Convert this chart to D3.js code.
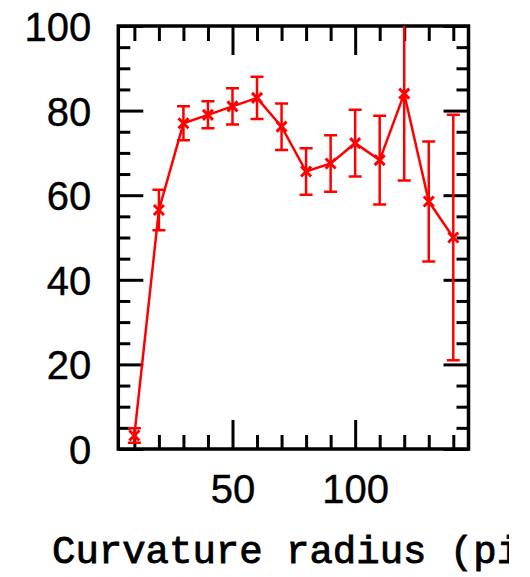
<!DOCTYPE html>
<html>
<head>
<meta charset="utf-8">
<script src="https://cdn.jsdelivr.net/npm/d3@7/dist/d3.min.js"></script>
<style>
  html, body { margin: 0; padding: 0; background: #fff; }
  svg { display: block; }
</style>
</head>
<body>
<svg id="chart" width="530" height="577"></svg>
<script>
// ---- data ----
const radius = [10, 20, 30, 40, 50, 60, 70, 80, 90, 100, 110, 120, 130, 140];
const fraction = [3.2, 56.5, 77, 79, 81, 83, 76.2, 65.6, 67.5, 72.3, 68.3, 84, 58.5, 50];
const errors = [1.7, 4.8, 4, 3.2, 4.3, 5, 5.5, 5.5, 6.7, 7.9, 10.5, 20.5, 14.2, 29];
const xMajorTicks = [50, 100];
const xMinorTicks = [10, 20, 30, 40, 60, 70, 80, 90, 110, 120, 130, 140];
const yMajorTicks = [0, 20, 40, 60, 80, 100];
const yMinorTicks = d3.range(0, 101, 5).filter(v => v % 20 !== 0);
const xLabel = "Curvature radius (pixels)";

// ---- layout ----
const L = 118.3, R = 468.5, T = 26, B = 449;
const x = d3.scaleLinear().domain([3.45, 146.2]).range([L, R]);
const y = d3.scaleLinear().domain([0, 100]).range([B, T]);

const svg = d3.select("#chart");
const numFont = "'Liberation Sans', Arial, sans-serif";

function styleAxis(g) {
  g.select(".domain").remove();
  g.selectAll(".tick line").attr("stroke", "#000").attr("stroke-width", 3);
}

// ticks (inward, on all four sides)
svg.append("g").attr("transform", `translate(0,${B})`)
  .call(d3.axisBottom(x).tickValues(xMinorTicks).tickSize(-14).tickFormat(""))
  .call(styleAxis);
svg.append("g").attr("transform", `translate(0,${B})`)
  .call(d3.axisBottom(x).tickValues(xMajorTicks).tickSize(-29).tickPadding(0).tickFormat(d3.format("d")))
  .call(styleAxis)
  .call(g => g.selectAll(".tick text")
    .attr("font-family", numFont).attr("font-size", 40).attr("fill", "#000")
    .attr("stroke", "#000").attr("stroke-width", 0.4)
    .attr("dy", null).attr("y", 54));
svg.append("g").attr("transform", `translate(0,${T})`)
  .call(d3.axisTop(x).tickValues(xMinorTicks).tickSize(-15).tickFormat(""))
  .call(styleAxis);
svg.append("g").attr("transform", `translate(0,${T})`)
  .call(d3.axisTop(x).tickValues(xMajorTicks).tickSize(-29).tickFormat(""))
  .call(styleAxis);

svg.append("g").attr("transform", `translate(${L},0)`)
  .call(d3.axisLeft(y).tickValues(yMinorTicks).tickSize(-12).tickFormat(""))
  .call(styleAxis);
svg.append("g").attr("transform", `translate(${L},0)`)
  .call(d3.axisLeft(y).tickValues(yMajorTicks).tickSize(-25).tickPadding(0).tickFormat(d3.format("d")))
  .call(styleAxis)
  .call(g => g.selectAll(".tick text")
    .attr("font-family", numFont).attr("font-size", 40).attr("fill", "#000")
    .attr("stroke", "#000").attr("stroke-width", 0.4)
    .attr("x", -27).attr("dy", "0.36em"));
svg.append("g").attr("transform", `translate(${R},0)`)
  .call(d3.axisRight(y).tickValues(yMinorTicks).tickSize(-12).tickFormat(""))
  .call(styleAxis);
svg.append("g").attr("transform", `translate(${R},0)`)
  .call(d3.axisRight(y).tickValues(yMajorTicks).tickSize(-25).tickFormat(""))
  .call(styleAxis);

// frame
svg.append("rect")
  .attr("x", L).attr("y", T).attr("width", R - L).attr("height", B - T)
  .attr("fill", "none").attr("stroke", "#000").attr("stroke-width", 3.5);

// data (clipped to frame)
svg.append("clipPath").attr("id", "plotclip")
  .append("rect").attr("x", L).attr("y", T).attr("width", R - L).attr("height", B - T);
const data = radius.map((r, i) => ({ r, v: fraction[i], e: errors[i] }));
const red = "#ff0000";
const g = svg.append("g").attr("clip-path", "url(#plotclip)");

g.append("path").datum(data)
  .attr("fill", "none").attr("stroke", red).attr("stroke-width", 2.5)
  .attr("d", d3.line().x(d => x(d.r)).y(d => y(d.v)));

const eb = g.selectAll(".eb").data(data).enter().append("g");
const cap = 6.5;
eb.append("line")
  .attr("x1", d => x(d.r)).attr("x2", d => x(d.r))
  .attr("y1", d => y(d.v + d.e)).attr("y2", d => y(d.v - d.e))
  .attr("stroke", red).attr("stroke-width", 2.5);
eb.append("line")
  .attr("x1", d => x(d.r) - cap).attr("x2", d => x(d.r) + cap)
  .attr("y1", d => y(d.v + d.e)).attr("y2", d => y(d.v + d.e))
  .attr("stroke", red).attr("stroke-width", 2.5);
eb.append("line")
  .attr("x1", d => x(d.r) - cap).attr("x2", d => x(d.r) + cap)
  .attr("y1", d => y(d.v - d.e)).attr("y2", d => y(d.v - d.e))
  .attr("stroke", red).attr("stroke-width", 2.5);
// cross markers
const m = 5;
eb.append("path")
  .attr("d", d => {
    const cx = x(d.r), cy = y(d.v);
    return `M${cx - m},${cy - m}L${cx + m},${cy + m}M${cx - m},${cy + m}L${cx + m},${cy - m}`;
  })
  .attr("stroke", red).attr("stroke-width", 3).attr("fill", "none");

// x-axis label (cropped at the right like the reference)
svg.append("clipPath").attr("id", "labelclip")
  .append("rect").attr("x", 0).attr("y", 500).attr("width", 509).attr("height", 77);
svg.append("text")
  .attr("clip-path", "url(#labelclip)")
  .attr("x", 52).attr("y", 563)
  .attr("font-family", "'Liberation Mono', 'Courier New', monospace")
  .attr("font-size", 39)
  .attr("fill", "#000")
  .attr("stroke", "#000").attr("stroke-width", 0.9)
  .text(xLabel);
</script>
</body>
</html>
